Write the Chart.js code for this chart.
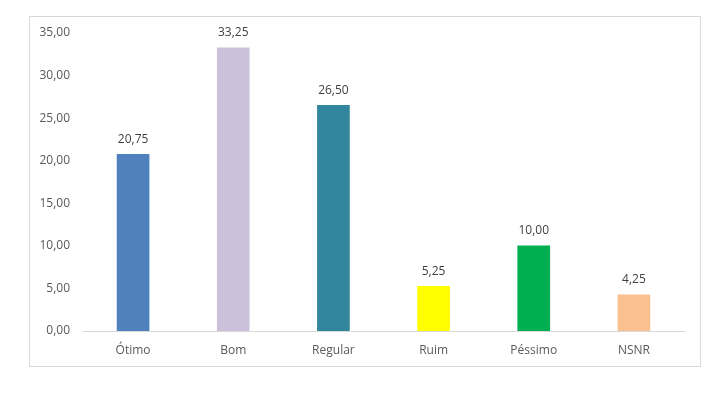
<!DOCTYPE html>
<html><head><meta charset="utf-8">
<script src="https://cdn.jsdelivr.net/npm/chart.js@4/dist/chart.umd.min.js"></script>
<style>html,body{margin:0;padding:0;background:#fff}#wrap{width:719px;height:413px}</style>
</head><body><div id="wrap"><canvas id="c" width="719" height="413"></canvas></div>
<script>
const categories = ["Ótimo","Bom","Regular","Ruim","Péssimo","NSNR"];
const values = [20.75, 33.25, 26.50, 5.25, 10.00, 4.25];
const barColors = ["#4F81BD","#CCC1DA","#31859C","#FFFF00","#00B050","#FAC090"];
const yTicks = [0,5,10,15,20,25,30,35];
const fmt = v => v.toFixed(2).replace('.', ',');
const FONT = "'Open Sans', sans-serif";

const frame = {
  id:'frame',
  beforeDraw(chart){
    const ctx = chart.ctx;
    ctx.save();
    ctx.fillStyle='#fff'; ctx.fillRect(0,0,chart.width,chart.height);
    ctx.strokeStyle='#D9D9D9'; ctx.lineWidth=1;
    ctx.strokeRect(29.5,16.5,671,350);
    ctx.restore();
  },
  afterDatasetsDraw(chart){
    const ctx = chart.ctx;
    const meta = chart.getDatasetMeta(0);
    ctx.save();
    ctx.font = "12px " + FONT;
    ctx.fillStyle = '#404040';
    ctx.textAlign='center'; ctx.textBaseline='middle';
    meta.data.forEach((bar,i)=>{
      ctx.fillText(fmt(values[i]), bar.x, bar.y - 15);
    });
    ctx.restore();
  }
};

new Chart(document.getElementById('c'), {
  type:'bar',
  data:{labels:categories, datasets:[{data:values, backgroundColor:barColors, barThickness:32}]},
  options:{
    responsive:false, animation:false, devicePixelRatio:1,
    layout:{padding:{left:0,top:33,right:35,bottom:0}},
    plugins:{legend:{display:false}, tooltip:{enabled:false}},
    scales:{
      x:{
        grid:{display:false},
        border:{display:true,color:'#D9D9D9',width:1},
        ticks:{color:'#595959',font:{family:FONT,size:12},padding:4},
        afterFit(s){ s.height = 82; }
      },
      y:{
        min:0,max:35,
        grid:{display:false},
        border:{display:false},
        afterBuildTicks(s){ s.ticks = yTicks.map(v=>({value:v})); },
        ticks:{color:'#595959',font:{family:FONT,size:12},padding:5,callback:v=>fmt(v)},
        afterFit(s){ s.width = 83; }
      }
    }
  },
  plugins:[frame]
});
</script></body></html>
